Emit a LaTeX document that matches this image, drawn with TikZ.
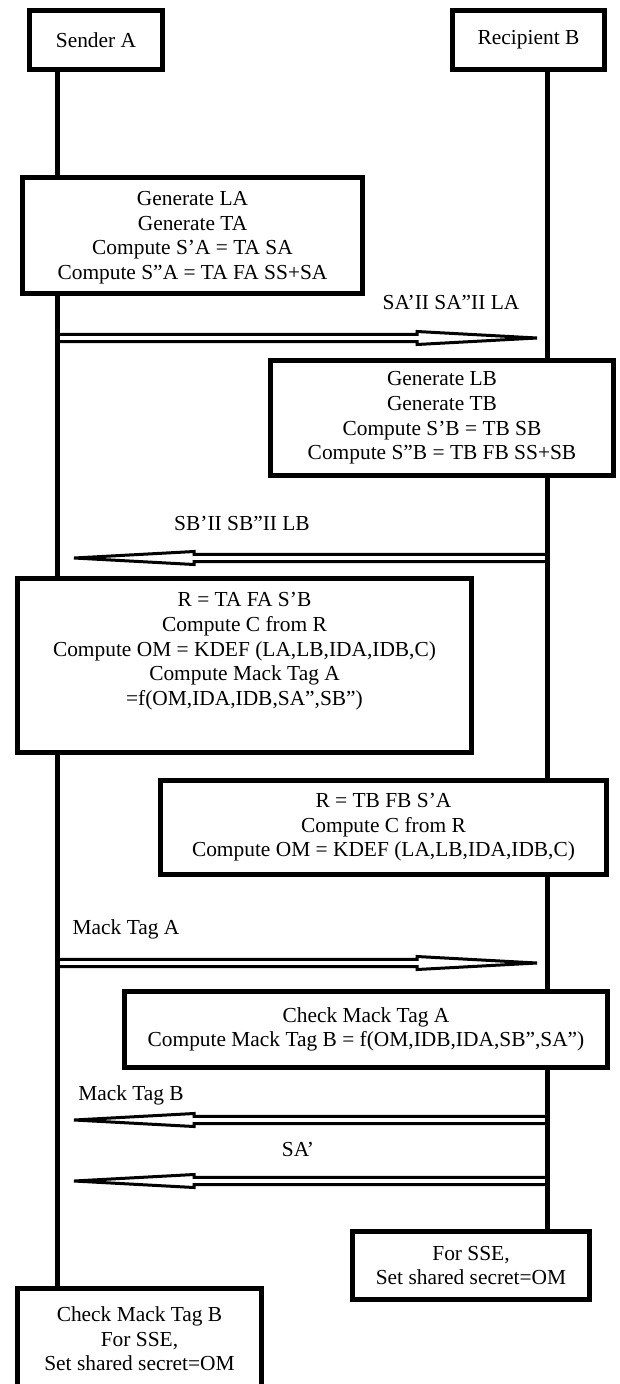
\documentclass[tikz,border=0pt]{standalone}
\usepackage{fontspec}
\setmainfont{Liberation Serif}
\usetikzlibrary{calc}

% outlined block arrow: tail #1, tip #2
\newcommand{\blockmsg}[2]{%
  \draw[msg] let \p1=(#1), \p2=(#2), \p3=($(#2)!120pt!(#1)$) in
    (\x1,\y1+3.7pt) -- (\x3,\y1+3.7pt) -- (\x3,\y1+6.5pt) -- (\x2,\y1)
    -- (\x3,\y1-6.5pt) -- (\x3,\y1-3.7pt) -- (\x1,\y1-3.7pt) -- cycle;}

\begin{document}
\begin{tikzpicture}[
            x=1pt, y=-1pt,
            box/.style={draw, line width=5pt, fill=white, align=center, inner sep=0pt,
                        font=\fontsize{21.4}{24.6}\selectfont},
            lbl/.style={inner sep=0pt, font=\fontsize{21.4}{24.6}\selectfont},
            life/.style={line width=5pt},
            msg/.style={line width=3pt, fill=white, line join=miter}
        ]
            \useasboundingbox (0,0) rectangle (620,1384);
            \clip (0,0) rectangle (620,1384);

% lifeline positions
            \coordinate (la) at (57,0);
            \coordinate (lb) at (547,0);

% message ends
            \coordinate (m1a) at (57,338);
            \coordinate (m1b) at (537,338);
            \coordinate (m2a) at (547,558);
            \coordinate (m2b) at (74,558);
            \coordinate (m3a) at (57,963);
            \coordinate (m3b) at (537,963);
            \coordinate (m4a) at (547,1120);
            \coordinate (m4b) at (74,1120);
            \coordinate (m5a) at (547,1181);
            \coordinate (m5b) at (74,1181);

% messages
            \blockmsg{m1a}{m1b}
            \blockmsg{m2a}{m2b}
            \blockmsg{m3a}{m3b}
            \blockmsg{m4a}{m4b}
            \blockmsg{m5a}{m5b}

% parties
            \node[box, minimum width=133pt, minimum height=59pt] (snd) at (96,40) {Sender A};
            \node[box, minimum width=152pt, minimum height=59pt] (rcp) at (528.5,40) {Recipient B};

% steps
            \node[box, minimum width=340pt, minimum height=116pt, text depth=0pt] (gena) at (192.5,235.5)
                {Generate LA\\Generate TA\\Compute S’A = TA SA\\Compute S”A = TA FA SS+SA};
            \node[box, minimum width=343pt, minimum height=115pt] (genb) at (442,418)
                {Generate LB\\Generate TB\\Compute S’B = TB SB\\Compute S”B = TB FB SS+SB};
            \node[box, minimum width=454pt, minimum height=174pt, text depth=33pt] (keya) at (244.5,665.5)
                {R = TA FA S’B\\Compute C from R\\Compute OM = KDEF (LA,LB,IDA,IDB,C)\\Compute Mack Tag A\\=f(OM,IDA,IDB,SA”,SB”)};
            \node[box, minimum width=446pt, minimum height=94pt] (keyb) at (383.5,827.5)
                {R = TB FB S’A\\Compute C from R\\Compute OM = KDEF (LA,LB,IDA,IDB,C)};
            \node[box, minimum width=483pt, minimum height=76pt] (tagb) at (366,1029.5)
                {Check Mack Tag A\\Compute Mack Tag B = f(OM,IDB,IDA,SB”,SA”)};
            \node[box, minimum width=237pt, minimum height=68pt] (sseb) at (471,1265.5)
                {For SSE,\\Set shared secret=OM};
            \node[box, minimum width=244pt, minimum height=101pt] (ssea) at (139.5,1339)
                {Check Mack Tag B\\For SSE,\\Set shared secret=OM};

% lifelines
            \draw[life] (snd.south -| la) -- (gena.north -| la);
            \draw[life] (gena.south -| la) -- (keya.north -| la);
            \draw[life] (keya.south -| la) -- (ssea.north -| la);
            \draw[life] (rcp.south -| lb) -- (genb.north -| lb);
            \draw[life] (genb.south -| lb) -- (keyb.north -| lb);
            \draw[life] (keyb.south -| lb) -- (tagb.north -| lb);
            \draw[life] (tagb.south -| lb) -- (sseb.north -| lb);

% message labels
            \node[lbl] (t1) at (451,302) {SA’II SA”II LA};
            \node[lbl] (t2) at (242,523) {SB’II SB”II LB};
            \node[lbl] (t3) at (126,929) {Mack Tag A};
            \node[lbl] (t4) at (131,1095) {Mack Tag B};
            \node[lbl] (t5) at (298,1149) {SA’};

        \end{tikzpicture}
\end{document}
